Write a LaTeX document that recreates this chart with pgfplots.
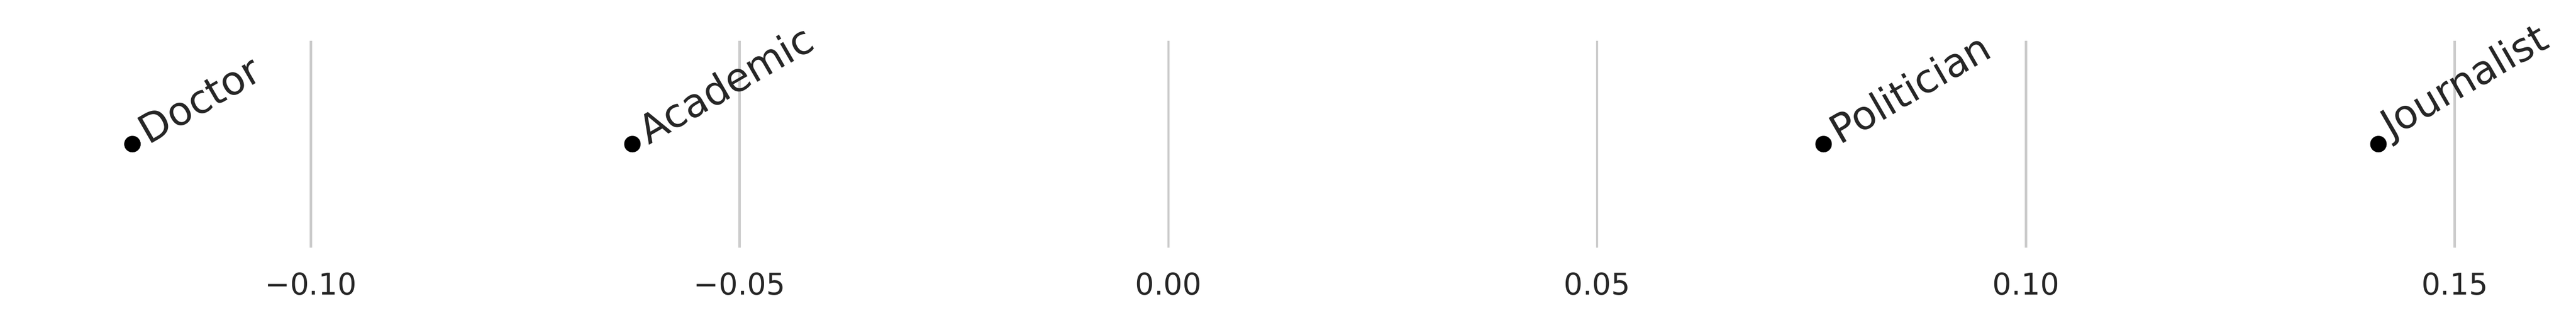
\documentclass[border=0pt]{standalone}
\usepackage{fontspec}
\setmainfont{DejaVu Sans}
\usepackage{pgfplots}
\usepackage{pgfplotstable}
\pgfplotsset{compat=1.18}
\definecolor{txt}{HTML}{262626}
\definecolor{gridc}{HTML}{CCCCCC}

\pgfplotstableread{
x        y  name
-0.1208  0  Doctor
-0.0625  0  Academic
0.0764   0  Politician
0.1411   0  Journalist
}\occupations

\begin{document}
\begin{tikzpicture}
\begin{axis}[
    at={(0,0)}, anchor=south west,
    scale only axis,
    width=959.1pt, height=80.2pt,
    xmin=-0.1339, xmax=0.1542,
    ymin=-1, ymax=1,
    axis line style={draw=none},
    xtick={-0.10,-0.05,0,0.05,0.10,0.15},
    xticklabels={−0.10,−0.05,0.00,0.05,0.10,0.15},
    ytick=\empty,
    major tick length=0pt,
    xmajorgrids,
    grid style={gridc, line width=0.9pt},
    xticklabel style={anchor=north, inner sep=0pt, yshift=-9.6pt,
        font=\fontsize{11.6}{14}\selectfont, text=txt},
    clip=false,
]
\addplot[only marks, mark=*, mark size=3pt, black,
    nodes near coords, point meta=explicit symbolic,
    every node near coord/.style={xshift=6.4pt, yshift=-0.9pt,
        rotate=30, anchor=south west, inner sep=0pt, text=txt,
        font=\fontsize{15.4}{18}\selectfont}]
    table[x=x, y=y, meta=name] {\occupations};
\end{axis}
\pgfresetboundingbox
\path (-7.8pt,-29.93pt) rectangle (992.2pt,95.96pt);
\end{tikzpicture}
\end{document}
